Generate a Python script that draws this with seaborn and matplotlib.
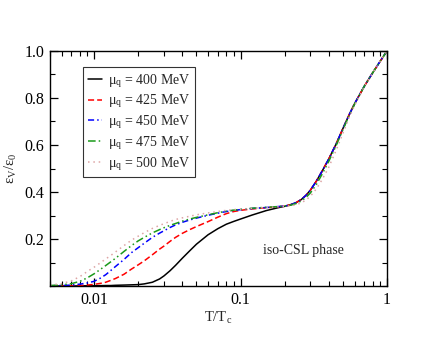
import matplotlib
matplotlib.use("Agg")
import matplotlib.pyplot as plt
import pandas as pd
import seaborn as sns
from matplotlib.ticker import FixedLocator, MultipleLocator, NullFormatter

sns.set_theme(style="ticks")
plt.rcParams.update({
    "font.family": ["Liberation Serif", "DejaVu Serif"],
    "font.size": 10,
    "mathtext.fontset": "stix",
    "axes.linewidth": 1.0,
    "axes.edgecolor": "black",
})

# Datos
t_baja = [0.005, 0.006, 0.007, 0.008, 0.009, 0.01,
          0.011, 0.012, 0.013, 0.014, 0.016, 0.018, 0.02, 0.022,
          0.025, 0.028, 0.03, 0.033, 0.036, 0.04, 0.045, 0.05,
          0.06, 0.07, 0.08, 0.09, 0.1, 0.12, 0.15, 0.18, 0.2]
t_alta = [0.22, 0.24, 0.26, 0.28, 0.3, 0.33, 0.36, 0.4, 0.45, 0.5,
          0.55, 0.6, 0.7, 0.8, 0.9, 1.0]
t_red = t_baja + t_alta

alta_comun = [0.346, 0.355, 0.368, 0.386, 0.408, 0.447, 0.488, 0.54, 0.605, 0.67,
              0.727, 0.775, 0.85, 0.908, 0.957, 1.0]
alta_475 = [0.344, 0.351, 0.362, 0.377, 0.396, 0.433, 0.475, 0.53, 0.598, 0.665,
            0.724, 0.773, 0.85, 0.908, 0.957, 1.0]
alta_500 = [0.341, 0.346, 0.354, 0.366, 0.382, 0.414, 0.452, 0.505, 0.578, 0.65,
            0.715, 0.768, 0.848, 0.908, 0.957, 1.0]

eps_400 = [0.0, 0.0, 0.0, 0.0005, 0.001, 0.001,
           0.0015, 0.002, 0.002, 0.003, 0.004, 0.005, 0.006, 0.009,
           0.016, 0.03, 0.043, 0.065, 0.088, 0.118, 0.15, 0.178,
           0.218, 0.244, 0.263, 0.275, 0.285, 0.302, 0.321, 0.333, 0.339] + alta_comun
eps_425 = [0.0, 0.0005, 0.001, 0.002, 0.004, 0.007,
           0.011, 0.016, 0.024, 0.032, 0.05, 0.072, 0.09, 0.107,
           0.133, 0.157, 0.17, 0.19, 0.207, 0.224, 0.24, 0.253,
           0.274, 0.293, 0.308, 0.317, 0.322, 0.328, 0.333, 0.337, 0.34] + alta_comun
eps_450 = [0.001, 0.002, 0.004, 0.008, 0.013, 0.02,
           0.033, 0.048, 0.066, 0.083, 0.113, 0.142, 0.163, 0.182,
           0.207, 0.225, 0.235, 0.249, 0.26, 0.271, 0.281, 0.289,
           0.301, 0.31, 0.317, 0.322, 0.325, 0.33, 0.334, 0.338, 0.34] + alta_comun
eps_475 = [0.002, 0.005, 0.01, 0.02, 0.035, 0.052,
           0.07, 0.087, 0.103, 0.118, 0.147, 0.172, 0.192, 0.207,
           0.226, 0.24, 0.248, 0.258, 0.266, 0.276, 0.285, 0.292,
           0.303, 0.312, 0.318, 0.323, 0.326, 0.331, 0.335, 0.338, 0.34] + alta_475
eps_500 = [0.004, 0.01, 0.022, 0.04, 0.062, 0.08,
           0.098, 0.115, 0.13, 0.145, 0.172, 0.195, 0.212, 0.227,
           0.245, 0.258, 0.265, 0.275, 0.283, 0.29, 0.297, 0.303,
           0.311, 0.317, 0.322, 0.325, 0.327, 0.331, 0.334, 0.337, 0.339] + alta_500

mu_q = [400, 425, 450, 475, 500]
series = [eps_400, eps_425, eps_450, eps_475, eps_500]

colores = ["black", "#ff0000", "#0000ff", "#1a9a1a", "#dda5a5"]
estilos = ["-", (0, (4, 2)), (0, (4, 2, 1, 2)), (0, (5, 2, 1, 2, 1, 2)), (0, (1, 2.5))]

df = pd.concat(
    [pd.DataFrame({"T": t_red, "eps": e, "mu": m}) for m, e in zip(mu_q, series)],
    ignore_index=True,
)

fig = plt.figure(figsize=(4.36, 3.37), dpi=100)
ax = fig.add_axes([0.1147, 0.1513, 0.7729, 0.6974])

for m, c, ls in zip(mu_q, colores, estilos):
    sub = df[df["mu"] == m]
    sns.lineplot(data=sub, x="T", y="eps", ax=ax, color=c, linewidth=1.1,
                 linestyle=ls, label=f"μ$_\\mathregular{{q}}$ = {m} MeV",
                 sort=False, estimator=None)

ax.set_xscale("log")
ax.set_xlim(0.005, 1.0)
ax.set_ylim(0.0, 1.0)

ax.xaxis.set_major_locator(FixedLocator([0.01, 0.1, 1.0]))
ax.set_xticklabels(["0.01", "0.1", "1"])
menores = [k * d for d in (0.001, 0.01, 0.1) for k in range(2, 10)]
ax.xaxis.set_minor_locator(FixedLocator(menores))
ax.xaxis.set_minor_formatter(NullFormatter())

ax.yaxis.set_major_locator(FixedLocator([0.2, 0.4, 0.6, 0.8, 1.0]))
ax.set_yticklabels(["0.2", "0.4", "0.6", "0.8", "1.0"])
ax.yaxis.set_minor_locator(MultipleLocator(0.1))

ax.tick_params(which="both", direction="in", top=True, right=True,
               colors="black", labelsize=11.5)
ax.tick_params(which="major", length=6, width=0.9, pad=4)
ax.tick_params(which="minor", length=3.5, width=0.8)

ax.set_xlabel("T/T$_\\mathregular{c}$", fontsize=10.5, labelpad=2)
ax.set_ylabel("ε$_\\mathregular{V}$/ε$_\\mathregular{0}$", fontsize=10.5, labelpad=4)

ax.text(0.27, 0.153, "iso-CSL phase", fontsize=10, ha="center", va="center")

leg = ax.legend(loc="upper left", bbox_to_anchor=(0.098, 0.932), fontsize=10,
                frameon=True, fancybox=False, handlelength=1.0,
                handletextpad=0.45, labelspacing=0.22, borderpad=0.35,
                borderaxespad=0.0)
leg.get_frame().set_edgecolor("black")
leg.get_frame().set_linewidth(0.8)

fig.savefig("out.png", dpi=100)
